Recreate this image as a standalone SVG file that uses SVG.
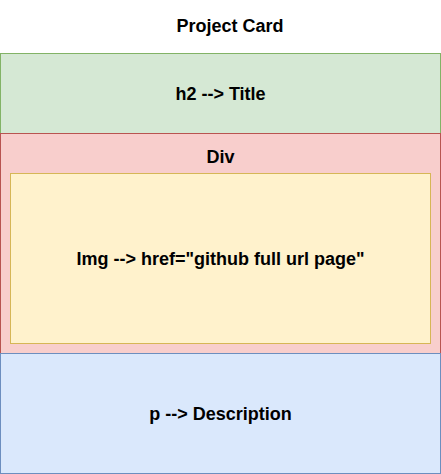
<svg xmlns="http://www.w3.org/2000/svg" width="441" height="474" viewBox="0 0 441 474">
<style>
  .lbl { font-family: "Liberation Sans", Arial, Helvetica, sans-serif; font-size: 18px; font-weight: bold; fill: #000000; text-anchor: middle; }
  .green { fill: #d5e8d4; stroke: #82b366; stroke-width: 1; }
  .red { fill: #f8cecc; stroke: #b85450; stroke-width: 1; }
  .yellow { fill: #fff2cc; stroke: #d6b656; stroke-width: 1; }
  .blue { fill: #dae8fc; stroke: #6c8ebf; stroke-width: 1; }
</style>
<rect width="441" height="474" fill="#ffffff"/>
<g id="title">
  <text class="lbl" x="230" y="32">Project Card</text>
</g>
<g id="h2">
  <rect class="green" x="0.5" y="53.5" width="440" height="80"/>
  <text class="lbl" x="220.5" y="100">h2 --&gt; Title</text>
</g>
<g id="div">
  <rect class="red" x="0.5" y="133.5" width="440" height="220"/>
  <text class="lbl" x="220.5" y="163">Div</text>
</g>
<g id="img">
  <rect class="yellow" x="10.5" y="173.5" width="420" height="170"/>
  <text class="lbl" x="220.5" y="265">Img --&gt; href="github full url page"</text>
</g>
<g id="p">
  <rect class="blue" x="0.5" y="353.5" width="440" height="120"/>
  <text class="lbl" x="220.5" y="420">p --&gt; Description</text>
</g>
<g id="connectors"></g>
</svg>
